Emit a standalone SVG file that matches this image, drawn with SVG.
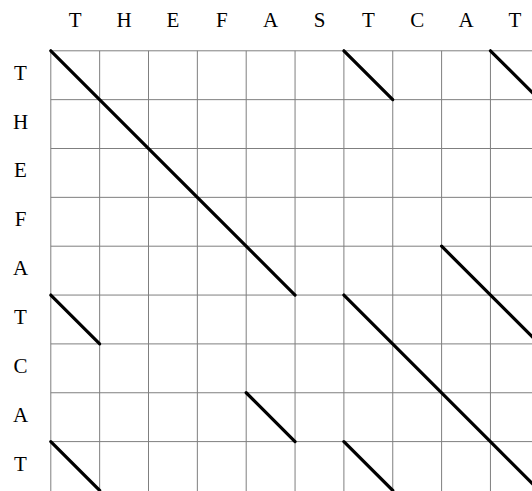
<svg xmlns="http://www.w3.org/2000/svg" width="532" height="491" viewBox="0 0 532 491">
<style>
.g{stroke:#7f7f7f;stroke-width:1;fill:none}
.d{stroke:#000;stroke-width:3.2;stroke-linecap:round;fill:none}
text{font-family:"Liberation Serif",serif;font-size:21px;font-weight:normal;fill:#000;text-anchor:middle}
</style>
<rect width="532" height="491" fill="#fff"/>
<g id="grid" class="g">
<path d="M50.8 50.8V491M99.65 50.8V491M148.5 50.8V491M197.35 50.8V491M246.2 50.8V491M295.05 50.8V491M343.9 50.8V491M392.75 50.8V491M441.6 50.8V491M490.45 50.8V491"/>
<path d="M50.8 50.8H532M50.8 99.65H532M50.8 148.5H532M50.8 197.35H532M50.8 246.2H532M50.8 295.05H532M50.8 343.9H532M50.8 392.75H532M50.8 441.6H532"/>
</g>
<g id="col-labels">
<text x="75.2" y="26.5">T</text>
<text x="124.1" y="26.5">H</text>
<text x="172.9" y="26.5">E</text>
<text x="221.8" y="26.5">F</text>
<text x="270.6" y="26.5">A</text>
<text x="319.5" y="26.5">S</text>
<text x="368.3" y="26.5">T</text>
<text x="417.2" y="26.5">C</text>
<text x="466" y="26.5">A</text>
<text x="514.9" y="26.5">T</text>
</g>
<g id="row-labels">
<text x="20.5" y="79.7">T</text>
<text x="20.5" y="128.6">H</text>
<text x="20.5" y="177.4">E</text>
<text x="20.5" y="226.3">F</text>
<text x="20.5" y="275.1">A</text>
<text x="20.5" y="324">T</text>
<text x="20.5" y="372.8">C</text>
<text x="20.5" y="421.7">A</text>
<text x="20.5" y="470.5">T</text>
</g>
<g id="connectors" class="d">
<path d="M50.8 50.8L295.05 295.05"/>
<path d="M343.9 50.8L392.75 99.65"/>
<path d="M490.45 50.8L539.3 99.65"/>
<path d="M441.6 246.2L539.3 343.9"/>
<path d="M50.8 295.05L99.65 343.9"/>
<path d="M343.9 295.05L539.3 490.45"/>
<path d="M246.2 392.75L295.05 441.6"/>
<path d="M50.8 441.6L99.65 490.45"/>
<path d="M343.9 441.6L392.75 490.45"/>
</g>
</svg>
